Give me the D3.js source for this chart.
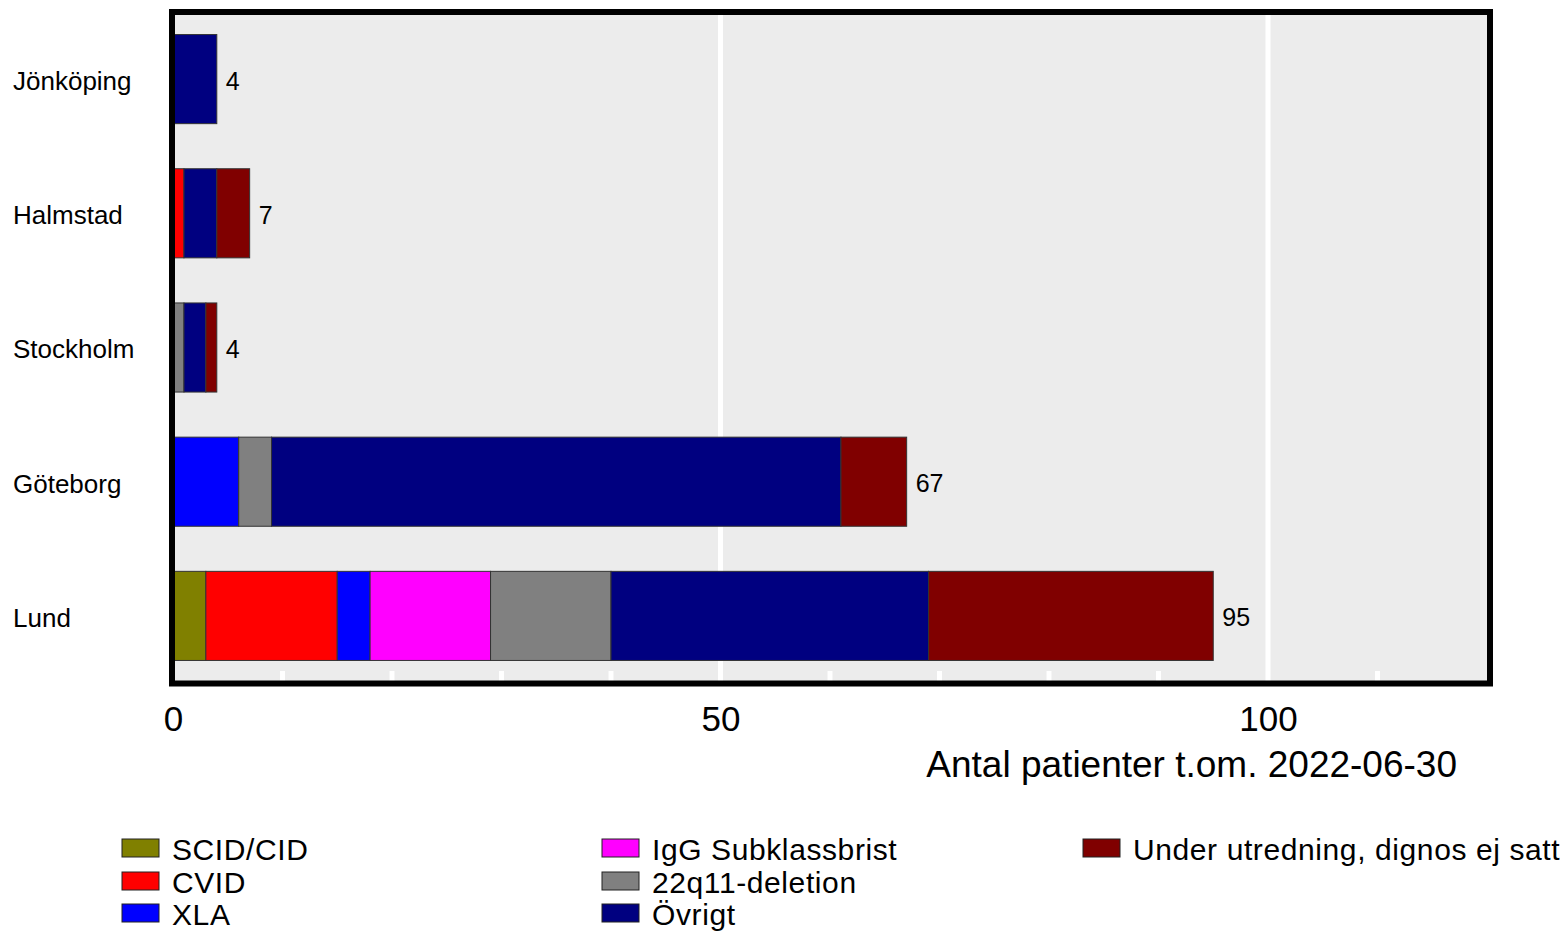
<!DOCTYPE html>
<html>
<head>
<meta charset="utf-8">
<script src="https://cdn.jsdelivr.net/npm/d3@7"></script>
<style>
  html, body { margin: 0; padding: 0; background: #fff; }
  svg { display: block; font-family: "Liberation Sans", Arial, sans-serif; }
</style>
</head>
<body>
<svg id="chart" width="1566" height="931"></svg>
<script>
// ---- Data ----
const categories = ["Jönköping", "Halmstad", "Stockholm", "Göteborg", "Lund"];
const seriesNames = ["SCID/CID", "CVID", "XLA", "IgG Subklassbrist", "22q11-deletion", "Övrigt", "Under utredning, dignos ej satt"];
const seriesColors = ["#808000", "#ff0000", "#0000ff", "#ff00ff", "#808080", "#000080", "#800000"];
// values per series, in category order
const scidCid      = [0, 0, 0, 0, 3];
const cvid         = [0, 1, 0, 0, 12];
const xla          = [0, 0, 0, 6, 3];
const igg          = [0, 0, 0, 0, 11];
const del22q11     = [0, 0, 1, 3, 11];
const ovrigt       = [4, 3, 2, 52, 29];
const underUtred   = [0, 3, 1, 6, 26];
const seriesValues = [scidCid, cvid, xla, igg, del22q11, ovrigt, underUtred];
const xTicksMajor = [0, 50, 100];
const xTicksMinor = [10, 20, 30, 40, 60, 70, 80, 90, 110];
const xTitle = "Antal patienter t.om. 2022-06-30";

// ---- Build table ----
const rows = categories.map((c, i) => {
  const r = { cat: c };
  seriesNames.forEach((s, j) => r[s] = seriesValues[j][i]);
  return r;
});
const stacked = d3.stack().keys(seriesNames)(rows);
const totals = rows.map(r => d3.sum(seriesNames, s => r[s]));

// ---- Layout ----
const svg = d3.select("#chart");
const plot = { left: 173, right: 1487, top: 12, bottom: 683 };

const x = d3.scaleLinear().domain([0, 120]).range([plot.left, plot.right]);
const y = d3.scaleBand().domain(categories).range([plot.top, plot.bottom])
  .paddingInner(0.336).paddingOuter(0.168);
const color = d3.scaleOrdinal().domain(seriesNames).range(seriesColors);

// background
svg.append("rect")
  .attr("x", plot.left).attr("y", plot.top)
  .attr("width", 1490 - plot.left).attr("height", plot.bottom - plot.top)
  .attr("fill", "#ececec");

// major grid lines
svg.append("g").selectAll("line").data(xTicksMajor.filter(d => d > 0)).join("line")
  .attr("x1", d => x(d)).attr("x2", d => x(d))
  .attr("y1", plot.top).attr("y2", plot.bottom)
  .attr("stroke", "#ffffff").attr("stroke-width", 5);

// minor ticks
svg.append("g").selectAll("line").data(xTicksMinor).join("line")
  .attr("x1", d => x(d)).attr("x2", d => x(d))
  .attr("y1", plot.bottom - 12).attr("y2", plot.bottom)
  .attr("stroke", "#ffffff").attr("stroke-width", 5);

// bars
svg.append("g").selectAll("g").data(stacked).join("g")
  .attr("fill", d => color(d.key))
  .selectAll("rect").data(d => d.filter(p => p[1] - p[0] > 0)).join("rect")
  .attr("x", d => x(d[0]))
  .attr("y", d => y(d.data.cat))
  .attr("width", d => x(d[1]) - x(d[0]))
  .attr("height", y.bandwidth())
  .attr("stroke", "#333")
  .attr("stroke-width", 1);

// value labels
svg.append("g").selectAll("text").data(categories).join("text")
  .attr("x", (d, i) => x(totals[i]) + 9)
  .attr("y", d => y(d) + y.bandwidth() / 2)
  .attr("dy", "0.42em")
  .attr("font-size", 25)
  .attr("fill", "#000")
  .text((d, i) => totals[i]);

// category labels
svg.append("g").selectAll("text").data(categories).join("text")
  .attr("x", 13)
  .attr("y", d => y(d) + y.bandwidth() / 2)
  .attr("dy", "0.42em")
  .attr("font-size", 26)
  .attr("fill", "#000")
  .text(d => d);

// frame
svg.append("rect")
  .attr("x", 172).attr("y", 12)
  .attr("width", 1490 - 172).attr("height", 683.5 - 12)
  .attr("fill", "none").attr("stroke", "#000").attr("stroke-width", 6);

// x axis tick labels
const xAxis = d3.axisBottom(x).tickValues(xTicksMajor).tickSize(0).tickPadding(0);
const gx = svg.append("g").attr("transform", `translate(0, 706)`).call(xAxis);
gx.select(".domain").remove();
gx.selectAll("text")
  .attr("font-size", 35)
  .attr("font-family", "Liberation Sans, Arial, sans-serif")
  .attr("fill", "#000")
  .attr("dy", "0.71em")
  .attr("y", 0);

// x title
svg.append("text")
  .attr("x", 1457).attr("y", 777)
  .attr("text-anchor", "end")
  .attr("font-size", 37)
  .attr("fill", "#000")
  .text(xTitle);

// legend
const legendCols = [122, 602, 1083];
const legendRowY = [839, 872, 904];
const legendPos = [[0,0],[0,1],[0,2],[1,0],[1,1],[1,2],[2,0]];
const lg = svg.append("g").selectAll("g").data(seriesNames).join("g")
  .attr("transform", (d, i) => `translate(${legendCols[legendPos[i][0]]}, ${legendRowY[legendPos[i][1]]})`);
lg.append("rect")
  .attr("width", 37).attr("height", 18)
  .attr("fill", d => color(d))
  .attr("stroke", "#222").attr("stroke-width", 1);
lg.append("text")
  .attr("x", 50).attr("y", 10)
  .attr("dy", "0.35em")
  .attr("font-size", 30)
  .attr("letter-spacing", 0.6)
  .attr("fill", "#000")
  .text(d => d);
</script>
</body>
</html>
